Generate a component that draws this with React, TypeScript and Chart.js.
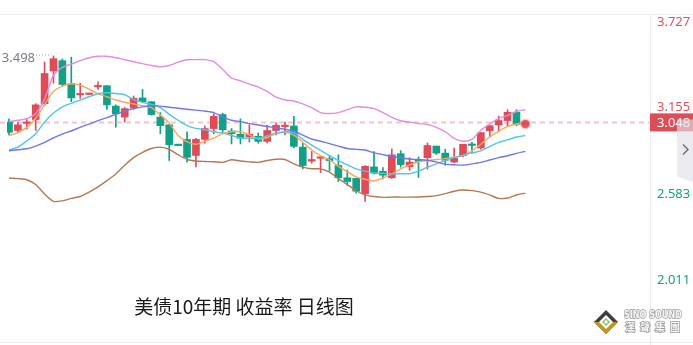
import React, { useEffect, useRef } from "react";
import { Chart, registerables } from "chart.js";

Chart.register(...registerables);

// ---- data (daily candles, US 10Y yield) ----
const candleOpen = [
  3.060, 3.004, 3.051, 3.077, 3.182, 3.398, 3.467, 3.314, 3.240, 3.243,
  3.293, 3.301, 3.166, 3.093, 3.153, 3.220, 3.195, 3.093, 3.042, 2.909,
  2.945, 2.839, 2.945, 3.017, 3.110, 3.001, 2.979, 2.962, 2.966, 2.932,
  3.004, 3.030, 3.034, 2.894, 2.801, 2.820, 2.818, 2.772, 2.691, 2.687,
  2.585, 2.763, 2.734, 2.691, 2.850, 2.765, 2.803, 2.824, 2.901, 2.854,
  2.795, 2.837, 2.913, 2.888, 3.002, 3.041, 3.070, 3.125, 3.044,
];
const candleHigh = [
  3.081, 3.060, 3.077, 3.182, 3.458, 3.498, 3.479, 3.490, 3.318, 3.248,
  3.327, 3.301, 3.174, 3.157, 3.233, 3.276, 3.195, 3.123, 3.042, 2.909,
  2.996, 2.953, 3.034, 3.115, 3.119, 3.017, 3.081, 3.042, 2.988, 3.039,
  3.055, 3.060, 3.098, 2.920, 2.865, 2.824, 2.839, 2.843, 2.742, 2.687,
  2.772, 2.865, 2.759, 2.882, 2.871, 2.824, 2.829, 2.922, 2.901, 2.880,
  2.888, 2.913, 2.926, 2.990, 3.036, 3.100, 3.142, 3.142, 3.050,
];
const candleLow = [
  2.975, 2.992, 3.013, 3.004, 3.170, 3.318, 3.297, 3.195, 3.217, 3.241,
  3.276, 3.144, 3.026, 3.060, 3.144, 3.191, 3.106, 2.983, 2.805, 2.904,
  2.795, 2.763, 2.920, 2.983, 2.992, 2.915, 2.915, 2.928, 2.920, 2.922,
  2.975, 2.975, 2.890, 2.750, 2.788, 2.725, 2.737, 2.666, 2.640, 2.589,
  2.534, 2.716, 2.683, 2.687, 2.761, 2.740, 2.693, 2.748, 2.845, 2.774,
  2.791, 2.829, 2.854, 2.880, 2.964, 3.002, 3.032, 3.036, 3.042,
];
const candleClose = [
  2.992, 3.042, 3.060, 3.174, 3.382, 3.480, 3.309, 3.220, 3.246, 3.246,
  3.301, 3.174, 3.115, 3.149, 3.217, 3.195, 3.110, 3.036, 2.909, 2.904,
  2.826, 2.945, 3.017, 3.098, 3.009, 2.983, 2.953, 2.979, 2.932, 3.004,
  3.039, 3.039, 2.899, 2.772, 2.812, 2.824, 2.805, 2.691, 2.666, 2.602,
  2.767, 2.721, 2.708, 2.843, 2.778, 2.795, 2.799, 2.905, 2.854, 2.807,
  2.820, 2.913, 2.905, 2.990, 3.036, 3.070, 3.125, 3.045, 3.048,
];

// moving averages / bands
const ma5 = [
  2.971, 2.990, 3.025, 3.085, 3.177, 3.263, 3.298, 3.314, 3.304, 3.279,
  3.247, 3.228, 3.206, 3.191, 3.180, 3.168, 3.155, 3.107, 3.053, 2.971,
  2.929, 2.913, 2.933, 2.954, 2.983, 2.996, 2.996, 2.975, 2.948, 2.958,
  2.983, 2.993, 2.974, 2.926, 2.875, 2.837, 2.809, 2.767, 2.732, 2.697,
  2.681, 2.669, 2.688, 2.716, 2.750, 2.777, 2.797, 2.805, 2.812, 2.818,
  2.828, 2.837, 2.869, 2.913, 2.961, 2.999, 3.031, 3.047, 3.056,
];
const ma10 = [
  2.875, 2.894, 2.936, 2.983, 3.060, 3.120, 3.161, 3.184, 3.206, 3.228,
  3.248, 3.254, 3.249, 3.241, 3.209, 3.191, 3.177, 3.155, 3.111, 3.072,
  3.037, 3.018, 3.009, 2.996, 2.987, 2.971, 2.955, 2.953, 2.954, 2.968,
  2.987, 2.996, 2.990, 2.945, 2.907, 2.872, 2.837, 2.805, 2.777, 2.750,
  2.735, 2.723, 2.720, 2.718, 2.718, 2.718, 2.735, 2.761, 2.783, 2.805,
  2.824, 2.840, 2.856, 2.869, 2.898, 2.926, 2.942, 2.961, 2.971,
];
const bollMid = [
  2.870, 2.877, 2.883, 2.901, 2.926, 2.955, 2.980, 3.001, 3.025, 3.047,
  3.069, 3.090, 3.111, 3.133, 3.149, 3.161, 3.168, 3.166, 3.158, 3.152,
  3.145, 3.139, 3.133, 3.123, 3.095, 3.072, 3.063, 3.050, 3.041, 3.031,
  3.022, 3.012, 2.999, 2.974, 2.948, 2.933, 2.917, 2.901, 2.885, 2.879,
  2.875, 2.856, 2.844, 2.832, 2.823, 2.815, 2.812, 2.807, 2.796, 2.781,
  2.777, 2.775, 2.783, 2.793, 2.809, 2.824, 2.837, 2.853, 2.866,
];
const bollUpper = [
  3.063, 3.072, 3.083, 3.117, 3.212, 3.371, 3.422, 3.444, 3.467, 3.486,
  3.496, 3.496, 3.486, 3.473, 3.460, 3.447, 3.435, 3.426, 3.435, 3.457,
  3.473, 3.474, 3.474, 3.460, 3.409, 3.352, 3.333, 3.311, 3.292, 3.263,
  3.225, 3.206, 3.200, 3.180, 3.155, 3.123, 3.117, 3.123, 3.142, 3.161,
  3.158, 3.149, 3.123, 3.091, 3.069, 3.060, 3.050, 3.044, 3.025, 2.996,
  2.952, 2.933, 2.945, 3.006, 3.047, 3.085, 3.104, 3.130, 3.142,
];
const bollLower = [
  2.689, 2.685, 2.678, 2.646, 2.583, 2.535, 2.538, 2.554, 2.567, 2.596,
  2.631, 2.672, 2.716, 2.774, 2.824, 2.859, 2.885, 2.894, 2.879, 2.844,
  2.812, 2.802, 2.799, 2.797, 2.793, 2.810, 2.802, 2.796, 2.793, 2.805,
  2.814, 2.812, 2.783, 2.761, 2.751, 2.750, 2.729, 2.685, 2.646, 2.605,
  2.578, 2.567, 2.561, 2.563, 2.563, 2.563, 2.564, 2.567, 2.573, 2.586,
  2.602, 2.610, 2.606, 2.596, 2.577, 2.554, 2.557, 2.577, 2.589,
];

const axisTicks = [3.727, 3.155, 2.583, 2.011];
const lastPrice = 3.048;
const highLabel = "3.498";
const titleText = "美债10年期 收益率 日线图";

const UP = "rgb(222,76,88)";
const DOWN = "rgb(18,160,135)";

export default function App() {
  const ref = useRef<HTMLCanvasElement | null>(null);

  useEffect(() => {
    if (!ref.current) return;
    const idx = candleOpen.map((_, i) => i);
    const colors = idx.map((i) => (candleClose[i] >= candleOpen[i] ? UP : DOWN));
    const line = (arr: number[], color: string, order: number) => ({
      type: "line" as const,
      data: idx.map((i) => ({ x: i, y: arr[i] })),
      borderColor: color,
      borderWidth: 1.4,
      pointRadius: 0,
      tension: 0.25,
      fill: false,
      order,
    });
    const lastIdx = idx.length - 1;

    const deco = {
      id: "deco",
      beforeDatasetsDraw(chart: any) {
        const { ctx, scales } = chart;
        const y = scales.y.getPixelForValue(lastPrice) - 1.5;
        ctx.save();
        ctx.setLineDash([5, 4]);
        ctx.strokeStyle = "rgba(240,180,188,0.8)";
        ctx.lineWidth = 2;
        ctx.beginPath();
        ctx.moveTo(0, y);
        ctx.lineTo(650, y);
        ctx.stroke();
        ctx.restore();
      },
      afterDraw(chart: any) {
        const { ctx, scales } = chart;
        const sy = scales.y;
        const sx = scales.x;
        ctx.save();
        // frame lines
        ctx.strokeStyle = "#ececec";
        ctx.lineWidth = 1;
        ctx.beginPath();
        ctx.moveTo(0, 14.5);
        ctx.lineTo(693, 14.5);
        ctx.moveTo(650.5, 14);
        ctx.lineTo(650.5, 345);
        ctx.moveTo(0, 342.5);
        ctx.lineTo(693, 342.5);
        ctx.stroke();

        // axis labels
        ctx.font = '13px "Noto Sans"';
        ctx.textAlign = "left";
        ctx.textBaseline = "middle";
        axisTicks.forEach((t) => {
          const y = Math.max(sy.getPixelForValue(t), 22.5);
          ctx.fillStyle = t > lastPrice ? "rgb(226,80,95)" : "rgb(22,160,133)";
          ctx.fillText(t.toFixed(3), 657, y);
        });

        // last price tag
        const py = sy.getPixelForValue(lastPrice) - 1.5;
        ctx.fillStyle = UP;
        ctx.fillRect(650, py - 9, 43, 18);
        ctx.fillStyle = "#ffffff";
        ctx.fillText(lastPrice.toFixed(3), 657, py + 0.5);

        // side panel with chevron
        ctx.fillStyle = "rgba(226,226,232,0.65)";
        ctx.beginPath();
        ctx.moveTo(677, py - 3);
        ctx.lineTo(693, py - 3);
        ctx.lineTo(693, py + 60);
        ctx.lineTo(677, py + 54);
        ctx.closePath();
        ctx.fill();
        ctx.strokeStyle = "#6a6a75";
        ctx.lineWidth = 1.4;
        ctx.beginPath();
        ctx.moveTo(683, py + 22);
        ctx.lineTo(688, py + 27);
        ctx.lineTo(683, py + 32);
        ctx.stroke();

        // max high annotation
        const hx = sx.getPixelForValue(5);
        const hy = sy.getPixelForValue(candleHigh[5]);
        ctx.strokeStyle = "#9a9aa6";
        ctx.lineWidth = 1;
        ctx.setLineDash([1, 2]);
        ctx.beginPath();
        ctx.moveTo(36, hy - 1);
        ctx.lineTo(hx - 2, hy - 1);
        ctx.stroke();
        ctx.setLineDash([]);
        ctx.fillStyle = "#7a7a86";
        ctx.font = '13px "Noto Sans"';
        ctx.textAlign = "right";
        ctx.fillText(highLabel, 35, hy + 2);

        // title
        ctx.fillStyle = "#1a1a1a";
        ctx.font = '19px "Noto Sans CJK SC"';
        ctx.textAlign = "center";
        ctx.fillText(titleText, 244, 307);

        // logo
        const cx = 606, cy = 322;
        ctx.fillStyle = "#3f3f3f";
        ctx.beginPath();
        ctx.moveTo(cx, cy - 12); ctx.lineTo(cx + 12, cy); ctx.lineTo(cx, cy + 12); ctx.lineTo(cx - 12, cy);
        ctx.closePath(); ctx.fill();
        ctx.fillStyle = "#b99a1c";
        ctx.beginPath();
        ctx.moveTo(cx - 12, cy); ctx.lineTo(cx + 12, cy); ctx.lineTo(cx, cy + 12);
        ctx.closePath(); ctx.fill();
        ctx.fillStyle = "#ffffff";
        ctx.beginPath();
        ctx.moveTo(cx, cy - 7); ctx.lineTo(cx + 7, cy); ctx.lineTo(cx, cy + 7); ctx.lineTo(cx - 7, cy);
        ctx.closePath(); ctx.fill();
        ctx.fillStyle = "#86c062";
        ctx.beginPath();
        ctx.moveTo(cx, cy - 4); ctx.lineTo(cx + 4, cy); ctx.lineTo(cx, cy + 4); ctx.lineTo(cx - 4, cy);
        ctx.closePath(); ctx.fill();
        ctx.fillStyle = "#ffffff";
        ctx.fillRect(cx - 1.5, cy - 1.5, 3, 3);

        ctx.textAlign = "left";
        ctx.textBaseline = "alphabetic";
        ctx.font = 'bold 10px "DejaVu Sans"';
        ctx.lineWidth = 1.5;
        ctx.strokeStyle = "#9c9c9c";
        ctx.fillStyle = "#f6f6f6";
        const logoText = "SINO SOUND";
        const w = ctx.measureText(logoText).width;
        ctx.save();
        ctx.translate(624, 318);
        ctx.scale(58 / w, 1);
        ctx.strokeText(logoText, 0, 0);
        ctx.fillText(logoText, 0, 0);
        ctx.restore();
        ctx.font = 'bold 10px "Noto Sans CJK TC"';
        const chars = ["漢", "聲", "集", "團"];
        chars.forEach((c, k) => {
          ctx.strokeText(c, 625 + k * 15, 331);
          ctx.fillText(c, 625 + k * 15, 331);
        });
        ctx.restore();
      },
    };

    const chart = new Chart(ref.current, {
      type: "bar",
      data: {
        datasets: [
          {
            type: "bar",
            data: idx.map((i) => ({ x: i, y: [candleLow[i], candleHigh[i]] })),
            backgroundColor: colors,
            barThickness: 1,
            grouped: false,
            order: 3,
          } as any,
          {
            type: "bar",
            data: idx.map((i) => ({ x: i, y: [candleOpen[i], candleClose[i]] })),
            backgroundColor: colors,
            barThickness: 7,
            minBarLength: 1.5,
            grouped: false,
            order: 2,
          } as any,
          line(bollUpper, "rgb(226,140,222)", 1),
          line(bollLower, "rgb(181,120,82)", 1),
          line(bollMid, "rgb(112,118,240)", 1),
          line(ma10, "rgb(80,200,228)", 1),
          line(ma5, "rgb(252,166,92)", 1),
          {
            type: "line",
            data: [{ x: lastIdx, y: lastPrice }],
            showLine: false,
            pointRadius: 4,
            pointBackgroundColor: "rgba(224,72,86,0.9)",
            pointBorderColor: "rgba(224,72,86,0.3)",
            pointBorderWidth: 3,
            order: 0,
          } as any,
        ],
      },
      options: {
        responsive: false,
        animation: false,
        devicePixelRatio: 1,
        layout: { padding: { left: 0, right: 43, top: 0, bottom: 0 } },
        plugins: { legend: { display: false }, tooltip: { enabled: false } },
        events: [],
        scales: {
          x: { type: "linear", min: -0.2222, max: 72, offset: false, display: false },
          y: { type: "linear", min: 1.6292, max: 3.8225, display: false },
        },
      },
      plugins: [deco],
    });
    return () => chart.destroy();
  }, []);

  return (
    <div style={{ position: "fixed", left: 0, top: 0, width: 693, height: 345, background: "#fff" }}>
      <canvas ref={ref} width={693} height={345} style={{ display: "block", width: 693, height: 345 }} />
    </div>
  );
}
